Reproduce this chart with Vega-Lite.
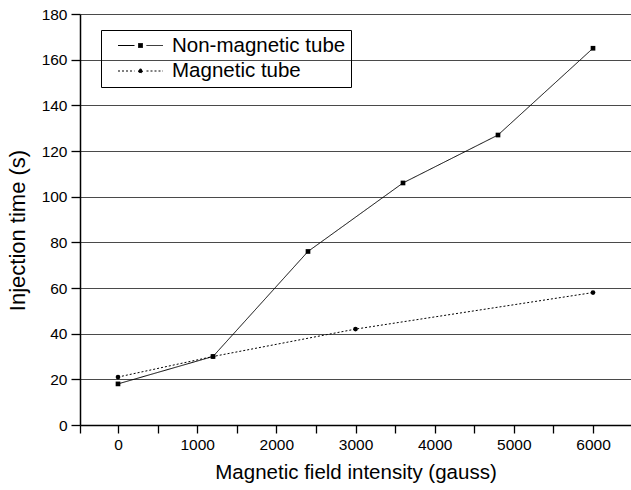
{
  "$schema": "https://vega.github.io/schema/vega-lite/v6.json",
  "width": 551,
  "height": 411,
  "autosize": {"type": "none"},
  "padding": {"left": 80, "top": 14, "right": 0, "bottom": 65},
  "background": "white",
  "config": {
    "font": "Liberation Sans",
    "view": {"stroke": null},
    "axis": {
      "domainColor": "black",
      "domainWidth": 1.5,
      "tickColor": "black",
      "tickWidth": 1.3,
      "labelColor": "black",
      "titleColor": "black",
      "labelFont": "Liberation Sans",
      "titleFont": "Liberation Sans",
      "labelFontSize": 15.5,
      "titleFontWeight": "normal"
    }
  },
  "data": {
    "values": [
      {"series": "Non-magnetic tube", "x": 0, "y": 18},
      {"series": "Non-magnetic tube", "x": 1200, "y": 30},
      {"series": "Non-magnetic tube", "x": 2400, "y": 76},
      {"series": "Non-magnetic tube", "x": 3600, "y": 106},
      {"series": "Non-magnetic tube", "x": 4800, "y": 127},
      {"series": "Non-magnetic tube", "x": 6000, "y": 165},
      {"series": "Magnetic tube", "x": 0, "y": 21},
      {"series": "Magnetic tube", "x": 1200, "y": 30},
      {"series": "Magnetic tube", "x": 3000, "y": 42},
      {"series": "Magnetic tube", "x": 6000, "y": 58}
    ]
  },
  "layer": [
    {
      "mark": {"type": "line", "color": "black", "strokeWidth": 1, "clip": true},
      "encoding": {
        "x": {
          "field": "x", "type": "quantitative",
          "scale": {"domain": [-480, 6480], "nice": false, "zero": false},
          "axis": {
            "title": "Magnetic field intensity (gauss)",
            "titleFontSize": 20.5,
            "values": [-480, 0, 500, 1000, 1500, 2000, 2500, 3000, 3500, 4000, 4500, 5000, 5500, 6000],
            "labelExpr": "datum.value >= 0 && datum.value % 1000 === 0 ? datum.label : ''",
            "format": "d",
            "grid": false,
            "tickSize": 8,
            "labelPadding": 4,
            "titlePadding": 10
          }
        },
        "y": {
          "field": "y", "type": "quantitative",
          "scale": {"domain": [0, 180], "nice": false},
          "axis": {
            "title": "Injection time (s)",
            "titleFontSize": 22,
            "titleY": 216,
            "values": [0, 10, 20, 30, 40, 50, 60, 70, 80, 90, 100, 110, 120, 130, 140, 150, 160, 170, 180],
            "labelExpr": "datum.value % 20 === 0 ? datum.label : ''",
            "grid": true,
            "gridColor": "#4a4a4a",
            "gridWidth": 1,
            "gridOpacity": {"condition": {"test": "datum.value % 20 === 0", "value": 1}, "value": 0},
            "tickSize": {"condition": {"test": "datum.value % 20 === 0", "value": 9}, "value": 5},
            "labelPadding": 4,
            "titlePadding": 12
          }
        },
        "strokeDash": {
          "field": "series", "type": "nominal",
          "scale": {"domain": ["Non-magnetic tube", "Magnetic tube"], "range": [[1, 0], [2, 2]]},
          "legend": {
            "title": null,
            "orient": "none",
            "legendX": 21,
            "legendY": 16,
            "strokeColor": "black",
            "padding": 5,
            "symbolOffset": 24,
            "symbolType": "M-2.25,0H-0.6M0.6,0H2.25M-0.2,-0.2H0.2V0.2H-0.2Z",
            "symbolSize": 400,
            "symbolStrokeColor": "black",
            "symbolFillColor": "black",
            "symbolStrokeWidth": 1,
            "symbolOpacity": 1,
            "labelFont": "Liberation Sans",
            "labelFontSize": 20.5,
            "labelColor": "black",
            "labelOffset": 21,
            "rowPadding": 4.5,
            "labelLimit": 300,
            "encode": {
              "symbols": {
                "update": {
                  "shape": {"signal": "datum.value === 'Magnetic tube' ? 'M-2.25,0H-0.6M0.6,0H2.25M-0.2,0A0.2,0.2,0,1,0,0.2,0A0.2,0.2,0,1,0,-0.2,0Z' : 'M-2.25,0H-0.6M0.6,0H2.25M-0.2,-0.2H0.2V0.2H-0.2Z'"}
                }
              }
            }
          }
        },
        "detail": {"field": "series"}
      }
    },
    {
      "transform": [{"filter": "datum.series === 'Non-magnetic tube'"}],
      "mark": {"type": "point", "shape": "square", "filled": true, "color": "black", "size": 22, "opacity": 1},
      "encoding": {
        "x": {"field": "x", "type": "quantitative"},
        "y": {"field": "y", "type": "quantitative"}
      }
    },
    {
      "transform": [{"filter": "datum.series === 'Magnetic tube'"}],
      "mark": {"type": "point", "shape": "circle", "filled": true, "color": "black", "size": 22, "opacity": 1},
      "encoding": {
        "x": {"field": "x", "type": "quantitative"},
        "y": {"field": "y", "type": "quantitative"}
      }
    }
  ]
}
